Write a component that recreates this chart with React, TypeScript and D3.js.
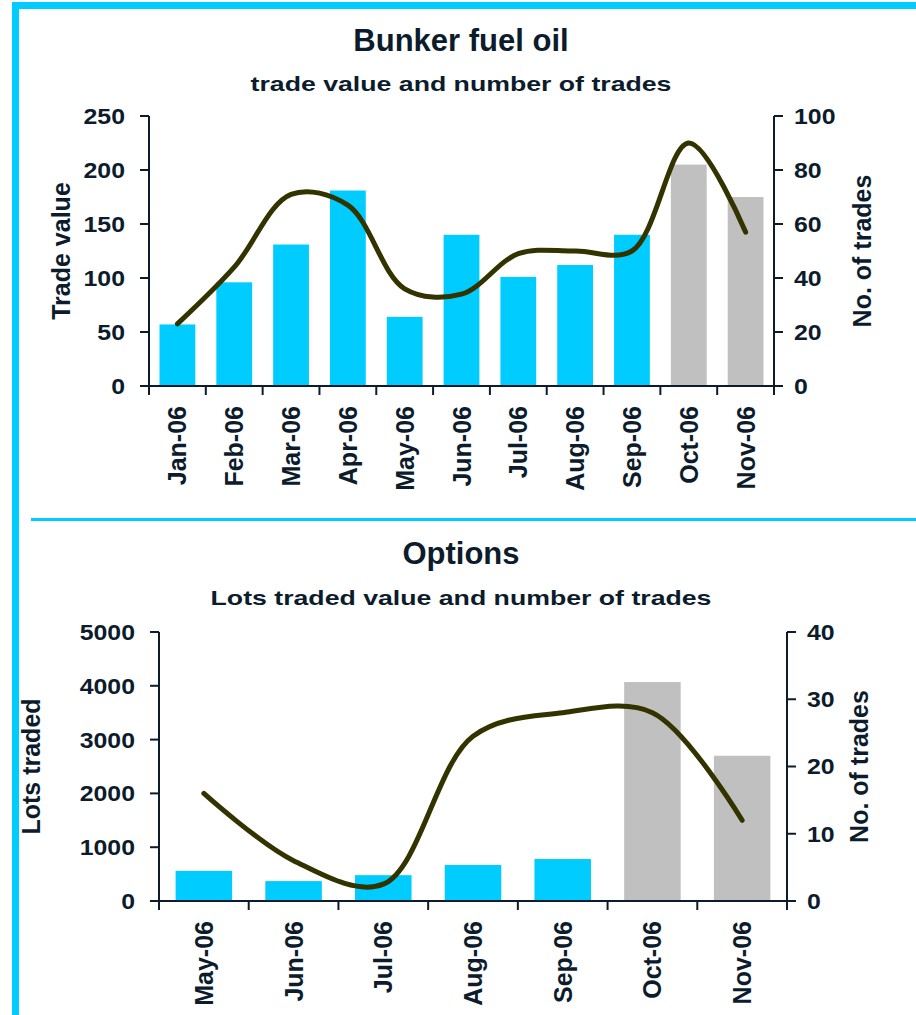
import { curveCatmullRom, line, scaleBand, scaleLinear } from 'd3'

const fuelMonths = ['Jan-06', 'Feb-06', 'Mar-06', 'Apr-06', 'May-06', 'Jun-06', 'Jul-06', 'Aug-06', 'Sep-06', 'Oct-06', 'Nov-06']
const fuelTradeValue = [57, 96, 131, 181, 64, 140, 101, 112, 140, 205, 175]
const fuelTrades = [23, 44, 71, 67, 36, 34, 49, 50, 50, 90, 57]
const fuelGreyMonths = ['Oct-06', 'Nov-06']
const fuelValueTicks = [0, 50, 100, 150, 200, 250]
const fuelTradeTicks = [0, 20, 40, 60, 80, 100]

const optionMonths = ['May-06', 'Jun-06', 'Jul-06', 'Aug-06', 'Sep-06', 'Oct-06', 'Nov-06']
const optionLots = [560, 370, 480, 670, 780, 4070, 2700]
const optionTrades = [16, 6, 2.5, 24.5, 28, 28, 12]
const optionGreyMonths = ['Oct-06', 'Nov-06']
const optionLotTicks = [0, 1000, 2000, 3000, 4000, 5000]
const optionTradeTicks = [0, 10, 20, 30, 40]

const ink = '#0c1c2c'
const cyan = '#00ccff'
const grey = '#c0c0c0'
const lineColor = '#333300'
const font = '"Liberation Sans", Arial, sans-serif'

type ChartProps = {
  title: string
  subtitle: string
  titleY: number
  subtitleY: number
  categories: string[]
  bars: number[]
  trades: number[]
  greyCategories: string[]
  leftTicks: number[]
  rightTicks: number[]
  leftTitle: string
  rightTitle: string
  leftTitleX: number
  rightTitleX: number
  frame: { left: number; right: number; top: number; bottom: number }
}

function DualChart(props: ChartProps) {
  const { frame, categories } = props
  const leftMax = props.leftTicks[props.leftTicks.length - 1]
  const rightMax = props.rightTicks[props.rightTicks.length - 1]

  const xScale = scaleBand<string>().domain(categories).range([frame.left, frame.right]).padding(0)
  const barWidth = xScale.bandwidth() * 0.63
  const yLeft = scaleLinear().domain([0, leftMax]).range([frame.bottom, frame.top])
  const yRight = scaleLinear().domain([0, rightMax]).range([frame.bottom, frame.top])

  const center = (c: string) => (xScale(c) ?? 0) + xScale.bandwidth() / 2

  // Excel-style smoothed line: centripetal spline keeps the short flat runs from bulging
  const tradeLine = line<number>()
    .x((_, i) => center(categories[i]))
    .y((d) => yRight(d))
    .curve(curveCatmullRom.alpha(0.5))

  const boundaries = [...categories.map((c) => xScale(c) ?? 0), frame.right]
  const midY = (frame.top + frame.bottom) / 2

  return (
    <g fontFamily={font} fontWeight="bold" fill={ink}>
      <text x={461} y={props.titleY} textAnchor="middle" fontSize={31}>
        {props.title}
      </text>
      <g transform={`translate(461, ${props.subtitleY}) scale(1.27, 1)`}>
        <text x={0} y={0} textAnchor="middle" fontSize={21}>
          {props.subtitle}
        </text>
      </g>

      {categories.map((c, i) => (
        <rect
          key={`bar-${c}`}
          x={center(c) - barWidth / 2}
          y={yLeft(props.bars[i])}
          width={barWidth}
          height={frame.bottom - yLeft(props.bars[i])}
          fill={props.greyCategories.includes(c) ? grey : cyan}
        />
      ))}

      <path
        d={tradeLine(props.trades) ?? ''}
        fill="none"
        stroke={lineColor}
        strokeWidth={5}
        strokeLinecap="round"
        strokeLinejoin="round"
      />

      <g stroke={ink} strokeWidth={2}>
        <line x1={frame.left} y1={frame.top} x2={frame.left} y2={frame.bottom} />
        <line x1={frame.right} y1={frame.top} x2={frame.right} y2={frame.bottom} />
        <line x1={frame.left} y1={frame.bottom} x2={frame.right} y2={frame.bottom} />
        {props.leftTicks.map((t) => (
          <line key={`lt-${t}`} x1={frame.left - 9} y1={yLeft(t)} x2={frame.left} y2={yLeft(t)} />
        ))}
        {props.rightTicks.map((t) => (
          <line key={`rt-${t}`} x1={frame.right} y1={yRight(t)} x2={frame.right + 9} y2={yRight(t)} />
        ))}
        {boundaries.map((b, i) => (
          <line key={`bt-${i}`} x1={b} y1={frame.bottom} x2={b} y2={frame.bottom + 9} />
        ))}
      </g>

      {props.leftTicks.map((t) => (
        <g key={`ll-${t}`} transform={`translate(${frame.left - 24}, ${yLeft(t)}) scale(1.13, 1)`}>
          <text x={0} y={0} dy="0.36em" textAnchor="end" fontSize={22}>
            {t}
          </text>
        </g>
      ))}
      {props.rightTicks.map((t) => (
        <g key={`rl-${t}`} transform={`translate(${frame.right + 20}, ${yRight(t)}) scale(1.13, 1)`}>
          <text x={0} y={0} dy="0.36em" textAnchor="start" fontSize={22}>
            {t}
          </text>
        </g>
      ))}

      {categories.map((c) => (
        <text
          key={`cl-${c}`}
          transform={`translate(${center(c)}, ${frame.bottom + 20}) rotate(-90)`}
          dy="0.36em"
          textAnchor="end"
          fontSize={25}
        >
          {c}
        </text>
      ))}

      <text
        transform={`translate(${props.leftTitleX}, ${midY}) rotate(-90)`}
        dy="0.36em"
        textAnchor="middle"
        fontSize={25}
      >
        {props.leftTitle}
      </text>
      <text
        transform={`translate(${props.rightTitleX}, ${midY}) rotate(-90)`}
        dy="0.36em"
        textAnchor="middle"
        fontSize={25}
      >
        {props.rightTitle}
      </text>
    </g>
  )
}

export default function App() {
  return (
    <svg
      width={916}
      height={1015}
      viewBox="0 0 916 1015"
      style={{ position: 'absolute', left: 0, top: 0, background: '#fff' }}
    >
      <rect x={12} y={2} width={904} height={7} fill={cyan} />
      <rect x={12} y={2} width={7} height={1013} fill={cyan} />
      <rect x={31} y={518} width={885} height={3} fill={cyan} />

      <DualChart
        title="Bunker fuel oil"
        subtitle="trade value and number of trades"
        titleY={50.5}
        subtitleY={91}
        categories={fuelMonths}
        bars={fuelTradeValue}
        trades={fuelTrades}
        greyCategories={fuelGreyMonths}
        leftTicks={fuelValueTicks}
        rightTicks={fuelTradeTicks}
        leftTitle="Trade value"
        rightTitle="No. of trades"
        leftTitleX={61}
        rightTitleX={862}
        frame={{ left: 149, right: 774, top: 116, bottom: 386 }}
      />

      <DualChart
        title="Options"
        subtitle="Lots traded value and number of trades"
        titleY={564}
        subtitleY={605}
        categories={optionMonths}
        bars={optionLots}
        trades={optionTrades}
        greyCategories={optionGreyMonths}
        leftTicks={optionLotTicks}
        rightTicks={optionTradeTicks}
        leftTitle="Lots traded"
        rightTitle="No. of trades"
        leftTitleX={31}
        rightTitleX={859}
        frame={{ left: 159, right: 787, top: 632, bottom: 901 }}
      />
    </svg>
  )
}
